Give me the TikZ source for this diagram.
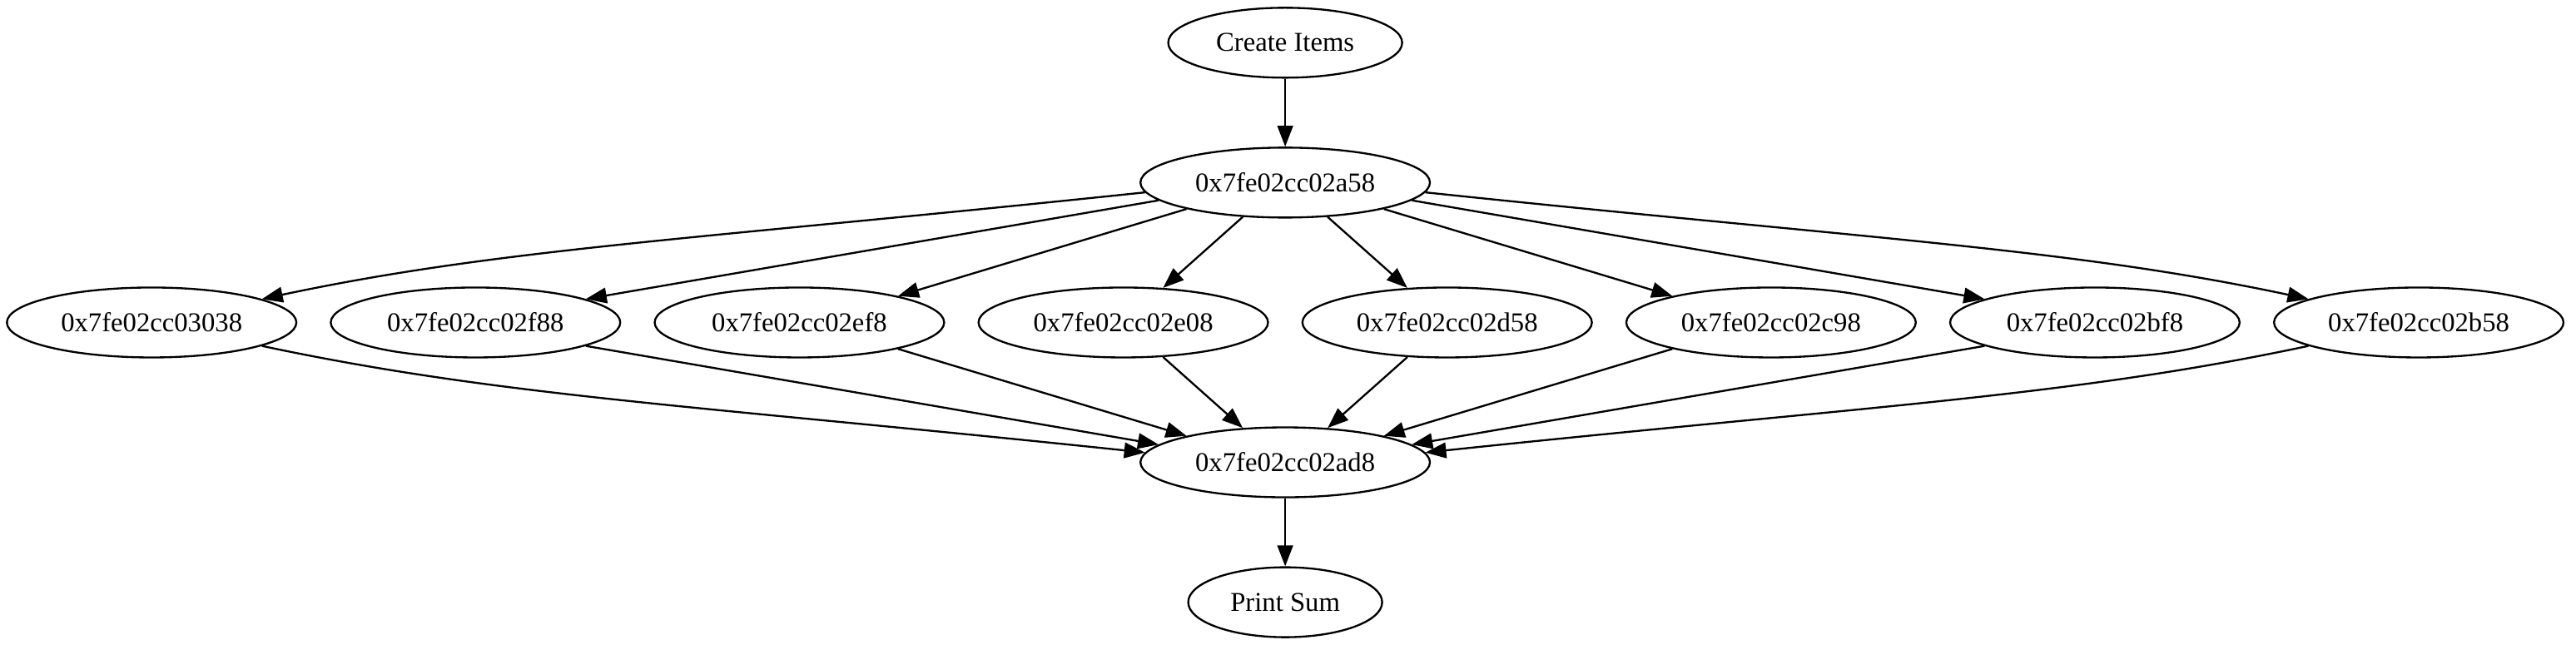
\documentclass[tikz,border=0pt]{standalone}
\usepackage{fontspec}
\setmainfont{Liberation Serif}
\usepackage{tikz}
\usetikzlibrary{shapes.geometric}
\usetikzlibrary{arrows.meta}

\begin{document}
\begin{tikzpicture}[
  addr/.style={ellipse,draw,line width=1pt,inner sep=0pt,minimum width=5.237cm,minimum height=1.265cm,font=\fontsize{14}{17}\selectfont},
  flow/.style={line width=1pt,-{Triangle[length=10.7pt,width=8pt]}}]
\useasboundingbox (0,0) rectangle (46.6,11.668);
\node[addr,minimum width=4.232cm] (create) at (23.249,10.895) {Create Items};
\node[addr] (a58) at (23.249,8.365) {0x7fe02cc02a58};

\node[addr] (n03038) at (2.743,5.834) {0x7fe02cc03038};
\node[addr] (nf88) at (8.602,5.834) {0x7fe02cc02f88};
\node[addr] (nef8) at (14.461,5.834) {0x7fe02cc02ef8};
\node[addr] (ne08) at (20.320,5.834) {0x7fe02cc02e08};
\node[addr] (nd58) at (26.179,5.834) {0x7fe02cc02d58};
\node[addr] (nc98) at (32.038,5.834) {0x7fe02cc02c98};
\node[addr] (nbf8) at (37.896,5.834) {0x7fe02cc02bf8};
\node[addr] (nb58) at (43.755,5.834) {0x7fe02cc02b58};

\node[addr] (ad8) at (23.249,3.304) {0x7fe02cc02ad8};
\node[addr,minimum width=3.508cm] (print) at (23.249,0.773) {Print Sum};

\draw[flow] (create) -- (a58);
\draw[flow] (a58.184) to[out=186,in=12,out looseness=1.3,in looseness=0.7] (n03038.12);
\draw[flow] (a58.188) -- (nf88.12);
\draw[flow] (a58.195) -- (nef8.15);
\draw[flow] (a58.219) -- (ne08.41);
\draw[flow] (a58.321) -- (nd58.139);
\draw[flow] (a58.345) -- (nc98.165);
\draw[flow] (a58.352) -- (nbf8.168);
\draw[flow] (a58.356) to[out=354,in=168,out looseness=1.3,in looseness=0.7] (nb58.168);

\draw[flow] (n03038.348) to[out=348,in=174,out looseness=0.7,in looseness=1.3] (ad8.176);
\draw[flow] (nf88.348) -- (ad8.172);
\draw[flow] (nef8.345) -- (ad8.165);
\draw[flow] (ne08.319) -- (ad8.141);
\draw[flow] (nd58.221) -- (ad8.39);
\draw[flow] (nc98.195) -- (ad8.15);
\draw[flow] (nbf8.192) -- (ad8.8);
\draw[flow] (nb58.192) to[out=192,in=6,out looseness=0.7,in looseness=1.3] (ad8.4);
\draw[flow] (ad8) -- (print);

\end{tikzpicture}
\end{document}
